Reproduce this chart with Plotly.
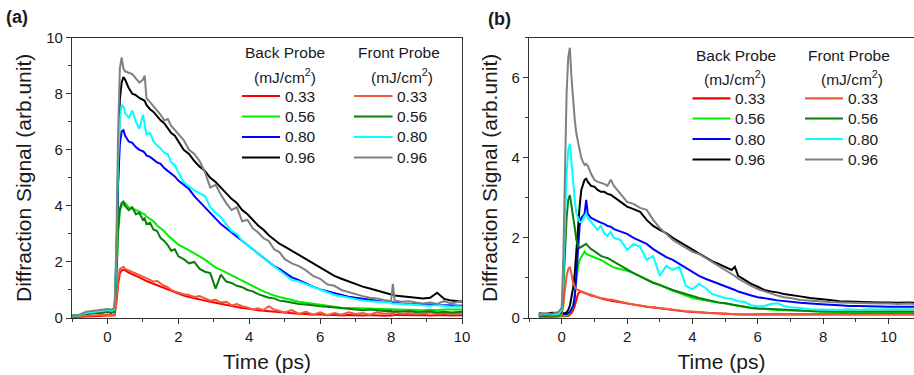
import plotly.graph_objects as go

# ---------------- data ----------------
labels = ["0.33", "0.56", "0.80", "0.96"]

t_a = [-1.0, -0.8, -0.6, -0.4, -0.2, 0.0, 0.1, 0.2, 0.25, 0.3,
       0.35, 0.4, 0.45, 0.5, 0.6, 0.7, 0.8, 0.9, 1.0, 1.05,
       1.1, 1.2, 1.3, 1.4, 1.5, 1.6, 1.7, 1.8, 1.9, 2.0,
       2.15, 2.3, 2.45, 2.6, 2.75, 2.9, 3.05, 3.2, 3.35, 3.5,
       3.65, 3.8, 3.95, 4.1, 4.25, 4.4, 4.55, 4.7, 4.85, 5.0,
       5.2, 5.4, 5.6, 5.8, 6.0, 6.2, 6.4, 6.6, 6.8, 7.0,
       7.2, 7.4, 7.6, 7.8, 8.0, 8.05, 8.1, 8.3, 8.5, 8.7,
       8.9, 9.1, 9.3, 9.5, 9.7, 9.9, 10.0]

a_back_033 = [0.03, 0.04, 0.05, 0.06, 0.06, 0.08, 0.08, 0.1, 0.5, 1.2,
              1.6, 1.7, 1.72, 1.7, 1.62, 1.55, 1.5, 1.45, 1.4, 1.35,
              1.32, 1.27, 1.2, 1.15, 1.1, 1.05, 1.0, 0.95, 0.9, 0.85,
              0.8, 0.75, 0.7, 0.66, 0.62, 0.58, 0.54, 0.5, 0.46, 0.42,
              0.4, 0.36, 0.34, 0.3, 0.28, 0.26, 0.24, 0.22, 0.2, 0.18,
              0.16, 0.15, 0.14, 0.12, 0.13, 0.1, 0.12, 0.09, 0.11, 0.1,
              0.09, 0.11, 0.1, 0.08, 0.1, 0.09, 0.11, 0.1, 0.09, 0.1,
              0.11, 0.09, 0.1, 0.11, 0.09, 0.1, 0.1]
a_back_056 = [0.1, 0.1, 0.15, 0.18, 0.2, 0.2, 0.2, 0.22, 1.3, 3.0,
              3.8, 4.0, 4.05, 4.1, 3.95, 3.9, 3.85, 3.8, 3.72, 3.7,
              3.62, 3.55, 3.45, 3.3, 3.2, 3.1, 2.95, 2.85, 2.72, 2.62,
              2.52, 2.42, 2.3, 2.2, 2.08, 1.95, 1.8, 1.72, 1.62, 1.52,
              1.42, 1.32, 1.22, 1.12, 1.05, 0.95, 0.88, 0.8, 0.75, 0.7,
              0.64, 0.58, 0.54, 0.5, 0.46, 0.42, 0.4, 0.37, 0.36, 0.35,
              0.34, 0.33, 0.32, 0.32, 0.3, 0.3, 0.3, 0.29, 0.29, 0.28,
              0.28, 0.29, 0.28, 0.3, 0.29, 0.3, 0.3]
a_back_080 = [0.04, 0.08, 0.15, 0.18, 0.2, 0.22, 0.2, 0.25, 1.9, 4.8,
              6.2, 6.65, 6.7, 6.5, 6.3, 6.25, 6.1, 6.0, 5.95, 5.9,
              5.8, 5.75, 5.65, 5.55, 5.5, 5.35, 5.25, 5.15, 5.05, 4.9,
              4.75, 4.6, 4.35, 4.15, 3.95, 3.75, 3.55, 3.35, 3.2, 3.05,
              2.9, 2.75, 2.6, 2.45, 2.3, 2.15, 2.0, 1.85, 1.75, 1.62,
              1.45, 1.35, 1.22, 1.12, 1.02, 0.95, 0.88, 0.82, 0.76, 0.72,
              0.68, 0.65, 0.62, 0.58, 0.56, 0.55, 0.55, 0.52, 0.5, 0.5,
              0.48, 0.48, 0.46, 0.45, 0.45, 0.44, 0.44]
a_back_096 = [0.05, 0.08, 0.15, 0.2, 0.2, 0.22, 0.2, 0.22, 2.0, 5.5,
              7.8, 8.4, 8.6, 8.5, 8.2, 8.0, 7.95, 7.85, 7.8, 7.75,
              7.6, 7.45, 7.35, 7.2, 7.05, 6.95, 6.75, 6.6, 6.5, 6.3,
              6.0, 5.85, 5.6, 5.4, 5.25, 5.0, 4.85, 4.65, 4.45, 4.25,
              4.1, 3.85, 3.7, 3.5, 3.3, 3.15, 2.95, 2.8, 2.65, 2.55,
              2.4, 2.25, 2.1, 1.95, 1.8, 1.65, 1.5, 1.4, 1.3, 1.2,
              1.12, 1.05, 0.98, 0.9, 0.85, 0.82, 0.8, 0.78, 0.75, 0.72,
              0.7, 0.72, 0.9, 0.68, 0.62, 0.6, 0.58]
a_front_033 = [0.05, 0.05, 0.08, 0.1, 0.1, 0.12, 0.1, 0.12, 0.6, 1.4,
               1.75, 1.8, 1.83, 1.75, 1.7, 1.65, 1.6, 1.55, 1.5, 1.45,
               1.42, 1.35, 1.3, 1.32, 1.22, 1.15, 1.1, 1.0, 0.95, 0.9,
               0.85, 0.82, 0.75, 0.78, 0.7, 0.62, 0.65, 0.55, 0.58, 0.45,
               0.5, 0.42, 0.38, 0.3, 0.35, 0.28, 0.42, 0.3, 0.25, 0.2,
               0.28, 0.15, 0.22, 0.12, 0.2, 0.1, 0.18, 0.12, 0.2, 0.14,
               0.18, 0.12, 0.2, 0.15, 0.18, 0.12, 0.2, 0.15, 0.18, 0.14,
               0.16, 0.2, 0.14, 0.18, 0.15, 0.17, 0.16]
a_front_056 = [0.08, 0.1, 0.15, 0.18, 0.2, 0.22, 0.2, 0.22, 1.5, 3.2,
               3.9, 4.1, 4.15, 4.0, 3.85, 3.95, 3.7, 3.75, 3.5, 3.55,
               3.35, 3.4, 3.15, 3.1, 2.85, 2.75, 2.6, 2.4, 2.45, 2.2,
               2.1, 1.95, 2.0, 1.75, 1.65, 1.6, 1.05, 1.55, 1.3, 1.25,
               1.15, 1.1, 1.0, 0.95, 0.85, 0.78, 0.72, 0.7, 0.62, 0.6,
               0.55, 0.5, 0.48, 0.44, 0.42, 0.4, 0.38, 0.34, 0.32, 0.3,
               0.28, 0.3, 0.27, 0.25, 0.26, 0.22, 0.24, 0.23, 0.25, 0.21,
               0.22, 0.24, 0.2, 0.22, 0.2, 0.23, 0.22]
a_front_080 = [0.05, 0.1, 0.18, 0.22, 0.25, 0.28, 0.25, 0.3, 2.2, 5.5,
               7.1, 7.6, 7.55, 7.3, 7.15, 7.4, 7.0, 6.75, 7.25, 6.9,
               6.55, 6.6, 6.3, 6.15, 6.05, 5.9, 5.85, 5.55, 5.45, 5.2,
               4.85, 4.7, 4.55, 4.45, 4.35, 3.95, 3.75, 3.6, 3.35, 3.1,
               3.0, 2.75, 2.6, 2.45, 2.3, 2.15, 2.0, 1.85, 1.7, 1.55,
               1.35, 1.3, 1.2, 1.1, 1.0, 0.92, 0.82, 0.78, 0.72, 0.68,
               0.62, 0.6, 0.58, 0.55, 0.55, 0.5, 0.52, 0.5, 0.48, 0.46,
               0.45, 0.44, 0.46, 0.42, 0.4, 0.42, 0.4]
a_front_096 = [0.05, 0.12, 0.22, 0.25, 0.28, 0.32, 0.3, 0.35, 2.6, 6.6,
               8.9, 9.3, 8.9, 8.8, 8.75, 8.7, 8.55, 8.4, 8.5, 8.65,
               7.85, 7.7, 7.55, 7.4, 7.25, 7.05, 7.1, 6.85, 6.7, 6.55,
               6.35, 6.0, 5.85, 5.6, 5.2, 4.65, 4.75, 4.4, 4.1, 3.85,
               3.95, 3.45, 3.5, 3.2, 3.05, 2.85, 2.75, 2.45, 2.35, 2.1,
               1.95, 1.85, 1.7, 1.5, 1.4, 1.2, 1.15, 1.0, 0.92, 0.85,
               0.78, 0.72, 0.7, 0.64, 0.6, 1.22, 0.62, 0.58, 0.6, 0.55,
               0.52, 0.55, 0.5, 0.6, 0.52, 0.58, 0.62]

t_b = [-0.7, -0.5, -0.3, -0.1, 0.0, 0.05, 0.1, 0.15, 0.2, 0.25,
       0.3, 0.35, 0.4, 0.45, 0.5, 0.55, 0.6, 0.65, 0.7, 0.75,
       0.8, 0.9, 1.0, 1.1, 1.2, 1.3, 1.4, 1.5, 1.6, 1.8,
       2.0, 2.2, 2.4, 2.6, 2.8, 3.0, 3.2, 3.4, 3.6, 3.8,
       4.0, 4.2, 4.4, 4.6, 4.8, 5.0, 5.2, 5.3, 5.4, 5.6,
       5.8, 6.0, 6.2, 6.4, 6.6, 6.8, 7.0, 7.3, 7.6, 7.9,
       8.2, 8.5, 8.8, 9.1, 9.4, 9.7, 10.0, 10.3, 10.6, 10.8]

b_back_033 = [0.03, 0.04, 0.03, 0.04, 0.04, 0.04, 0.04, 0.05, 0.05, 0.08,
              0.12, 0.2, 0.3, 0.45, 0.6, 0.65, 0.66, 0.64, 0.62, 0.6,
              0.58, 0.56, 0.54, 0.51, 0.49, 0.47, 0.45, 0.44, 0.42, 0.39,
              0.36, 0.33, 0.3, 0.28, 0.26, 0.24, 0.21, 0.19, 0.18, 0.16,
              0.15, 0.14, 0.13, 0.12, 0.11, 0.1, 0.1, 0.1, 0.09, 0.09,
              0.09, 0.1, 0.09, 0.1, 0.09, 0.1, 0.09, 0.1, 0.1, 0.1,
              0.1, 0.1, 0.11, 0.1, 0.1, 0.11, 0.1, 0.1, 0.11, 0.1]
b_back_056 = [0.05, 0.05, 0.06, 0.05, 0.05, 0.05, 0.06, 0.06, 0.08, 0.12,
              0.2, 0.3, 0.6, 1.0, 1.28, 1.45, 1.53, 1.6, 1.66, 1.6,
              1.58, 1.55, 1.5, 1.48, 1.45, 1.4, 1.33, 1.3, 1.26, 1.22,
              1.18, 1.12, 1.04, 0.95, 0.88, 0.83, 0.75, 0.68, 0.62, 0.56,
              0.5, 0.47, 0.44, 0.41, 0.38, 0.37, 0.33, 0.32, 0.3, 0.28,
              0.25, 0.24, 0.22, 0.21, 0.2, 0.2, 0.19, 0.18, 0.17, 0.16,
              0.15, 0.15, 0.14, 0.15, 0.14, 0.14, 0.15, 0.14, 0.14, 0.15]
b_back_080 = [0.08, 0.1, 0.08, 0.1, 0.1, 0.1, 0.1, 0.1, 0.12, 0.15,
              0.22, 0.3, 0.5, 1.2, 1.8, 2.3, 2.5, 2.55, 2.6, 2.95,
              2.6, 2.5, 2.45, 2.42, 2.38, 2.35, 2.3, 2.28, 2.22, 2.15,
              2.1, 2.0, 1.92, 1.85, 1.72, 1.62, 1.52, 1.45, 1.35, 1.25,
              1.15, 1.05, 0.98, 0.92, 0.85, 0.8, 0.75, 0.7, 0.66, 0.6,
              0.56, 0.52, 0.5, 0.47, 0.44, 0.42, 0.41, 0.38, 0.36, 0.34,
              0.33, 0.32, 0.3, 0.3, 0.29, 0.29, 0.28, 0.28, 0.29, 0.28]
b_back_096 = [0.12, 0.1, 0.13, 0.12, 0.12, 0.12, 0.12, 0.14, 0.2, 0.3,
              0.5, 0.75, 1.12, 1.75, 2.36, 2.8, 3.2, 3.35, 3.45, 3.48,
              3.4, 3.3, 3.28, 3.2, 3.15, 3.15, 3.1, 3.08, 3.02, 2.88,
              2.78, 2.72, 2.65, 2.45, 2.3, 2.2, 2.12, 2.0, 1.9, 1.8,
              1.72, 1.62, 1.5, 1.42, 1.35, 1.28, 1.2, 1.28, 1.05, 0.95,
              0.85, 0.78, 0.7, 0.66, 0.64, 0.6, 0.58, 0.54, 0.5, 0.48,
              0.45, 0.42, 0.41, 0.4, 0.39, 0.39, 0.39, 0.38, 0.39, 0.38]
b_front_033 = [0.04, 0.05, 0.04, 0.05, 0.08, 0.3, 0.7, 1.05, 1.22, 1.28,
               1.1, 0.87, 0.78, 0.72, 0.7, 0.68, 0.66, 0.64, 0.62, 0.62,
               0.6, 0.58, 0.54, 0.52, 0.5, 0.48, 0.47, 0.46, 0.44, 0.4,
               0.37, 0.34, 0.31, 0.29, 0.27, 0.25, 0.22, 0.2, 0.18, 0.17,
               0.16, 0.14, 0.13, 0.12, 0.12, 0.11, 0.1, 0.1, 0.09, 0.09,
               0.08, 0.08, 0.08, 0.08, 0.07, 0.08, 0.07, 0.08, 0.07, 0.08,
               0.07, 0.08, 0.07, 0.08, 0.07, 0.08, 0.07, 0.08, 0.07, 0.08]
b_front_056 = [0.05, 0.06, 0.05, 0.06, 0.15, 0.7, 1.6, 2.5, 2.95, 3.07,
               2.8, 2.45, 2.25, 1.95, 1.8, 1.75, 1.78, 1.8, 1.82, 1.85,
               1.8, 1.72, 1.67, 1.6, 1.55, 1.52, 1.5, 1.45, 1.4, 1.32,
               1.21, 1.12, 1.04, 0.95, 0.88, 0.82, 0.75, 0.7, 0.65, 0.6,
               0.54, 0.5, 0.46, 0.42, 0.39, 0.37, 0.34, 0.32, 0.3, 0.28,
               0.25, 0.24, 0.23, 0.22, 0.21, 0.2, 0.2, 0.18, 0.17, 0.16,
               0.16, 0.16, 0.15, 0.16, 0.15, 0.16, 0.15, 0.16, 0.15, 0.16]
b_front_080 = [0.08, 0.1, 0.08, 0.1, 0.2, 1.0, 2.4, 3.6, 4.2, 4.35,
               3.9, 3.36, 2.95, 2.61, 2.5, 2.4, 2.4, 2.45, 2.55, 2.6,
               2.5, 2.4, 2.28, 2.2, 2.3, 2.12, 2.05, 2.15, 2.0, 1.95,
               1.7, 1.85, 1.78, 1.45, 1.55, 1.05, 1.3, 1.2, 1.28, 0.8,
               0.72, 0.85, 0.75, 0.6, 0.55, 0.5, 0.48, 0.45, 0.42, 0.4,
               0.32, 0.29, 0.3, 0.35, 0.37, 0.3, 0.27, 0.25, 0.22, 0.21,
               0.21, 0.2, 0.22, 0.2, 0.22, 0.21, 0.22, 0.22, 0.21, 0.22]
b_front_096 = [0.1, 0.12, 0.1, 0.15, 0.25, 1.5, 3.6, 5.6, 6.5, 6.75,
               6.0, 5.4, 4.95, 4.6, 4.4, 4.15, 4.0, 3.9, 3.82, 3.85,
               3.8, 3.6, 3.45, 3.4, 3.38, 3.35, 3.3, 3.45, 3.3, 3.1,
               2.9, 2.85, 2.75, 2.7, 2.45, 2.25, 2.1, 1.95, 1.85, 1.75,
               1.65, 1.6, 1.5, 1.42, 1.32, 1.2, 1.1, 1.05, 0.98, 0.88,
               0.8, 0.72, 0.66, 0.6, 0.56, 0.52, 0.5, 0.45, 0.43, 0.42,
               0.4, 0.39, 0.38, 0.37, 0.37, 0.36, 0.36, 0.35, 0.36, 0.35]

back_colors = ["#FF0000", "#00EE00", "#0000FF", "#000000"]
front_colors = ["#EE5A3C", "#0A7D0A", "#00FFFF", "#808080"]

# ---------------- figure ----------------
W, H = 914, 375
FONT = "Liberation Sans, Arial, sans-serif"
TXT = "#1a1a1a"
AX = "#333333"

fig = go.Figure()

panels = [
    ("x", "y", t_a, [a_back_033, a_back_056, a_back_080, a_back_096],
     [a_front_033, a_front_056, a_front_080, a_front_096]),
    ("x2", "y2", t_b, [b_back_033, b_back_056, b_back_080, b_back_096],
     [b_front_033, b_front_056, b_front_080, b_front_096]),
]
for xa, ya, t, backs, fronts in panels:
    for lab, col, ser in zip(labels, back_colors, backs):
        fig.add_trace(go.Scatter(x=t, y=ser, mode="lines", xaxis=xa, yaxis=ya,
                                 line=dict(color=col, width=2),
                                 name="Back " + lab, showlegend=False))
    for lab, col, ser in zip(labels, front_colors, fronts):
        fig.add_trace(go.Scatter(x=t, y=ser, mode="lines", xaxis=xa, yaxis=ya,
                                 line=dict(color=col, width=2),
                                 name="Front " + lab, showlegend=False))


def px(x):
    return x / W


def py(y):
    return 1 - y / H


common = dict(showline=True, linecolor=AX, linewidth=1.3, ticks="outside",
              ticklen=5, tickwidth=1.2, tickcolor=AX, showgrid=False,
              zeroline=False, automargin=False,
              tickfont=dict(size=15, color=TXT, family=FONT),
              minor=dict(ticks="outside", ticklen=3, tickwidth=1, tickcolor=AX, dtick=1),
              title_font=dict(size=21, color=TXT, family=FONT))

ydom = [py(318), py(37.7)]
fig.update_layout(
    width=W, height=H, margin=dict(l=0, r=0, t=0, b=0, autoexpand=False),
    paper_bgcolor="white", plot_bgcolor="white",
    font=dict(family=FONT, color=TXT),
    showlegend=False,
    xaxis=dict(common, domain=[px(72), px(462)], range=[-1, 10], tick0=0, dtick=2,
               anchor="y", mirror=True, title=dict(text="Time (ps)", standoff=10)),
    yaxis=dict(common, domain=ydom, range=[0, 10], tick0=0, dtick=2,
               anchor="x", mirror=True,
               title=dict(text="Diffraction Signal (arb.unit)", standoff=8)),
    xaxis2=dict(common, domain=[px(529), 1.0], range=[-1, 10.78], tick0=0, dtick=2,
                anchor="y2", mirror=True, title=dict(text="Time (ps)", standoff=10)),
    yaxis2=dict(common, domain=ydom, range=[0, 7], tick0=0, dtick=2,
                anchor="x2", mirror=False,
                title=dict(text="Diffraction Signal (arb.unit)", standoff=8)),
)

# panel labels
fig.add_annotation(text="<b>(a)</b>", x=px(17), y=py(16.5), xref="paper", yref="paper",
                   showarrow=False, xanchor="center", yanchor="middle",
                   font=dict(size=18, color=TXT, family=FONT))
fig.add_annotation(text="<b>(b)</b>", x=px(499), y=py(19), xref="paper", yref="paper",
                   showarrow=False, xanchor="center", yanchor="middle",
                   font=dict(size=18, color=TXT, family=FONT))

# legends (drawn as key lines + text)
legend_specs = [
    (285, 284.5, 53, 76, 242, 280, 283, [96, 116.5, 137, 157.5], back_colors, "Back Probe"),
    (399, 401.5, 53, 76, 354, 392.5, 395, [96, 116.5, 137, 157.5], front_colors, "Front Probe"),
    (736, 735, 55, 78, 692.5, 730.5, 733, [98.3, 118.5, 139, 159.5], back_colors, "Back Probe"),
    (849, 852, 55, 78, 805, 843, 845.5, [98.3, 118.5, 139, 159.5], front_colors, "Front Probe"),
]
LFS = 15.5
for tcx, mcx, ty, my, lx0, lx1, tx, rows, cols, title in legend_specs:
    fig.add_annotation(text=title, x=px(tcx), y=py(ty), xref="paper", yref="paper",
                       showarrow=False, xanchor="center", yanchor="middle",
                       font=dict(size=LFS, color=TXT, family=FONT))
    fig.add_annotation(text="(mJ/cm<sup>2</sup>)", x=px(mcx), y=py(my), xref="paper",
                       yref="paper", showarrow=False, xanchor="center", yanchor="middle",
                       font=dict(size=LFS, color=TXT, family=FONT))
    for ry, col, lab in zip(rows, cols, labels):
        fig.add_shape(type="line", xref="paper", yref="paper",
                      x0=px(lx0), x1=px(lx1), y0=py(ry), y1=py(ry),
                      line=dict(color=col, width=2.2))
        fig.add_annotation(text=lab, x=px(tx), y=py(ry), xref="paper", yref="paper",
                           showarrow=False, xanchor="left", yanchor="middle",
                           font=dict(size=LFS, color=TXT, family=FONT))

fig.write_html("out.html")
